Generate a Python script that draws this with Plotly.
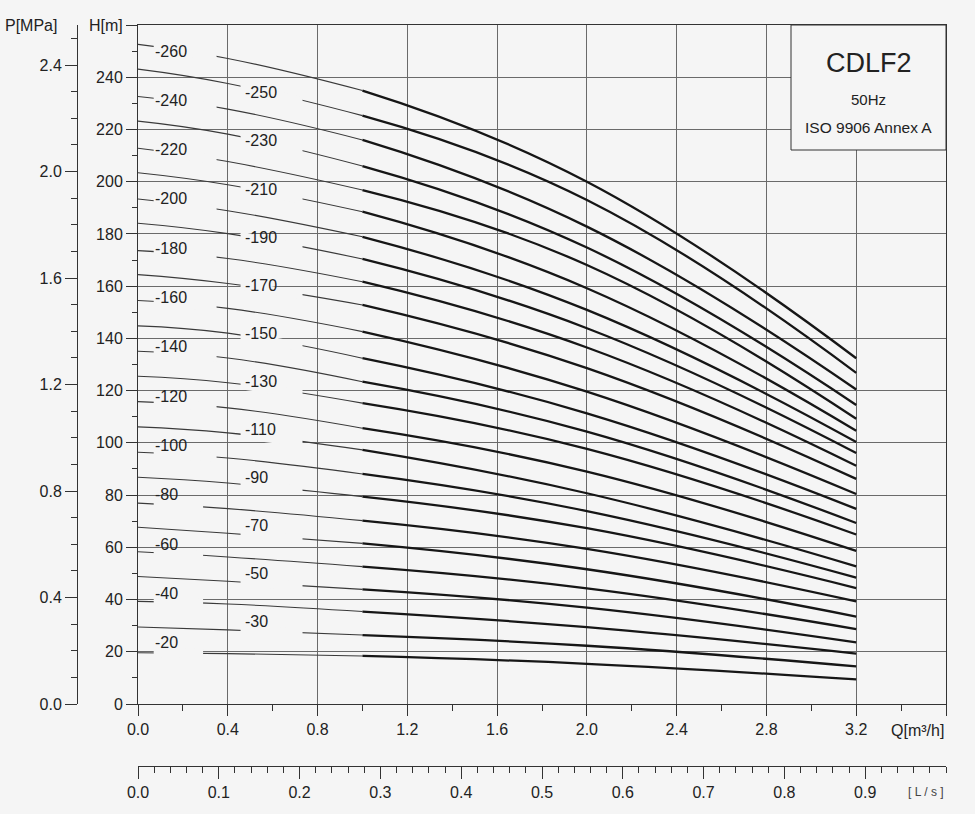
import numpy as np
import plotly.graph_objects as go

# ---------------- data ----------------
models = ["-20", "-30", "-40", "-50", "-60", "-70", "-80", "-90", "-100", "-110",
          "-120", "-130", "-140", "-150", "-160", "-170", "-180", "-190", "-200",
          "-210", "-220", "-230", "-240", "-250", "-260"]

# flow points (m3/h) where head was read
Q_thin = [0.0, 0.4, 1.0]     # thin (outside working range) part
Q_thick = [1.0, 2.0, 3.2]    # thick (working range) part

H_q00 = [19.6, 29.5, 39.3, 48.8, 58.3, 67.7, 76.9, 86.8, 96.4, 106.1,
         115.8, 125.5, 135.1, 144.8, 154.5, 164.4, 173.6, 184.1, 193.4,
         203.4, 212.8, 223.2, 232.6, 243.1, 252.6]
H_q04 = [19.3, 28.4, 38.3, 47.0, 56.3, 65.4, 74.8, 84.6, 94.2, 103.8,
         113.4, 123.0, 132.5, 142.0, 151.5, 161.0, 170.6, 180.1, 188.9,
         198.8, 207.7, 218.2, 227.8, 237.6, 247.2]
H_q10 = [18.4, 26.4, 35.4, 43.9, 52.6, 61.5, 70.2, 79.4, 88.1, 97.3,
         105.6, 115.2, 123.4, 132.4, 142.6, 152.8, 161.7, 170.4, 178.9,
         188.5, 196.8, 206.0, 216.0, 225.3, 234.9]
H_q20 = [15.4, 22.3, 29.4, 36.9, 44.3, 51.6, 59.4, 67.3, 73.9, 80.7,
         89.0, 97.7, 104.3, 111.3, 119.6, 128.6, 136.5, 143.9, 150.9,
         159.2, 168.1, 174.8, 182.8, 193.0, 200.0]
H_q32 = [9.4, 14.4, 19.3, 23.6, 28.7, 33.5, 39.3, 44.4, 48.4, 52.7,
         58.6, 64.9, 69.3, 74.7, 80.4, 86.2, 91.2, 96.1, 100.3,
         104.6, 109.2, 114.5, 120.4, 126.8, 132.4]

q_ticks = [0.0, 0.4, 0.8, 1.2, 1.6, 2.0, 2.4, 2.8, 3.2]
h_ticks = [0, 20, 40, 60, 80, 100, 120, 140, 160, 180, 200, 220, 240]
p_ticks = [0.0, 0.4, 0.8, 1.2, 1.6, 2.0, 2.4]
ls_ticks = [0.0, 0.1, 0.2, 0.3, 0.4, 0.5, 0.6, 0.7, 0.8, 0.9]

# ---------------- styling / layout constants ----------------
BG = "#f5f5f5"
AX = "#333333"
GRID = "#6a6a6a"
TXT = "#222222"
FONT = "Liberation Sans, Arial, sans-serif"
FS = 16

W, HGT = 975, 814
ML, MR, MT, MB = 40, 29, 25, 30
PW = W - ML - MR
PH = HGT - MT - MB


def px_x(px):
    return (px - ML) / PW


def px_y(py):
    return (HGT - MB - py) / PH


Q_MAX = 3.6
H_MAX = 260
P_MAX = H_MAX * 0.00981
LS_MAX = Q_MAX / 3.6

fig = go.Figure()

# pump curves
for i, m in enumerate(models):
    fig.add_trace(go.Scatter(
        x=Q_thin, y=[H_q00[i], H_q04[i], H_q10[i]], mode="lines",
        line=dict(color="#3a3a3a", width=1.1, shape="spline", smoothing=1.3),
        hoverinfo="skip", showlegend=False))
    fig.add_trace(go.Scatter(
        x=Q_thick, y=[H_q10[i], H_q20[i], H_q32[i]], mode="lines",
        line=dict(color="#161616", width=2.3, shape="spline", smoothing=1.3),
        hoverinfo="skip", showlegend=False))

# invisible helper traces so the extra axes are drawn
fig.add_trace(go.Scatter(x=[0, LS_MAX], y=[0, 0], xaxis="x2", yaxis="y",
                         mode="markers", marker=dict(opacity=0),
                         hoverinfo="skip", showlegend=False))
fig.add_trace(go.Scatter(x=[0, 0], y=[0, P_MAX], xaxis="x", yaxis="y2",
                         mode="markers", marker=dict(opacity=0),
                         hoverinfo="skip", showlegend=False))

shapes = []
annotations = []

# label gaps + labels
for i, m in enumerate(models):
    n = int(m[1:]) // 10
    hthin = [H_q00[i], H_q04[i], H_q10[i]]
    if n % 2 == 0:
        qa, qb = 0.07, (0.35 if n >= 10 else 0.29)
        qt = 0.068
        ylab = 9.44 * n + 4.6
    else:
        qa, qb = 0.457, 0.733
        qt = 0.466
        ylab = 9.2 * n + 4.0
    ha = float(np.interp(qa, Q_thin, hthin))
    hb = float(np.interp(qb, Q_thin, hthin))
    d = 1.7
    shapes.append(dict(
        type="path", xref="x", yref="y", layer="above",
        path=f"M {qa},{ha + d} L {qb},{hb + d} L {qb},{hb - d} L {qa},{ha - d} Z",
        fillcolor=BG, line=dict(width=0)))
    annotations.append(dict(
        x=qt, y=ylab, xref="x", yref="y", xanchor="left", yanchor="middle",
        text=m, showarrow=False, font=dict(size=FS, color=TXT, family=FONT)))

# title box
shapes.append(dict(type="rect", xref="paper", yref="paper", layer="above",
                   x0=px_x(791), x1=1.0, y0=px_y(150), y1=1.0,
                   fillcolor=BG, line=dict(color=AX, width=1)))
box_cx = px_x((791 + 946) / 2)
annotations += [
    dict(x=box_cx, y=px_y(63), xref="paper", yref="paper", text="CDLF2",
         xanchor="center", yanchor="middle",
         showarrow=False, font=dict(size=27, color=TXT, family=FONT)),
    dict(x=box_cx, y=px_y(99), xref="paper", yref="paper", text="50Hz",
         xanchor="center", yanchor="middle",
         showarrow=False, font=dict(size=15, color=TXT, family=FONT)),
    dict(x=box_cx, y=px_y(128), xref="paper", yref="paper", text="ISO 9906 Annex A",
         xanchor="center", yanchor="middle",
         showarrow=False, font=dict(size=15.5, color=TXT, family=FONT)),
    dict(x=px_x(59), y=1.0, xref="paper", yref="paper", xanchor="right",
         yanchor="middle", text="P[MPa]", showarrow=False,
         font=dict(size=FS, color=TXT, family=FONT)),
    dict(x=1.0, y=px_y(730), xref="paper", yref="paper", xanchor="right",
         yanchor="middle", text="Q[m³/h]", showarrow=False,
         font=dict(size=FS, color=TXT, family=FONT)),
    dict(x=1.0, y=px_y(792), xref="paper", yref="paper", xanchor="right",
         yanchor="middle", text="[ L / s ]", showarrow=False,
         font=dict(size=12, color="#444444", family=FONT)),
]

tickfont = dict(size=FS, color=TXT, family=FONT)

fig.update_layout(
    width=W, height=HGT,
    margin=dict(l=ML, r=MR, t=MT, b=MB, pad=0),
    paper_bgcolor=BG, plot_bgcolor=BG,
    showlegend=False, hovermode=False,
    font=dict(family=FONT, size=FS, color=TXT),
    shapes=shapes, annotations=annotations,
    xaxis=dict(
        domain=[px_x(138), 1.0], range=[0, Q_MAX], anchor="y",
        tickmode="array", tickvals=q_ticks + [Q_MAX],
        ticktext=[f"{v:.1f}" for v in q_ticks] + [""],
        ticks="outside", ticklen=11, tickwidth=1, tickcolor=AX,
        minor=dict(tickmode="linear", tick0=0, dtick=0.2, ticks="outside",
                   ticklen=6, tickcolor=AX, showgrid=False),
        showline=True, linecolor=AX, linewidth=1, mirror=True,
        showgrid=True, gridcolor=GRID, gridwidth=1, zeroline=False,
        tickfont=tickfont, fixedrange=True),
    yaxis=dict(
        domain=[px_y(704), 1.0], range=[0, H_MAX], anchor="x",
        tickmode="array", tickvals=h_ticks + [H_MAX],
        ticktext=[str(v) for v in h_ticks] + ["H[m]"],
        ticks="outside", ticklen=11, tickwidth=1, tickcolor=AX,
        minor=dict(tickmode="linear", tick0=0, dtick=10, ticks="outside",
                   ticklen=5, tickcolor=AX, showgrid=False),
        showline=True, linecolor=AX, linewidth=1, mirror=True,
        showgrid=True, gridcolor=GRID, gridwidth=1, zeroline=False,
        tickfont=tickfont, fixedrange=True),
    yaxis2=dict(
        overlaying="y", anchor="free", position=px_x(77), side="left",
        range=[0, P_MAX], tickmode="array", tickvals=p_ticks,
        ticktext=[f"{v:.1f}" for v in p_ticks],
        ticks="outside", ticklen=12, tickwidth=1, tickcolor=AX,
        minor=dict(tickmode="linear", tick0=0, dtick=0.1, ticks="outside",
                   ticklen=6, tickcolor=AX),
        showline=True, linecolor=AX, linewidth=1,
        showgrid=False, zeroline=False, tickfont=tickfont, fixedrange=True),
    xaxis2=dict(
        overlaying="x", anchor="free", position=px_y(766), side="bottom",
        range=[0, LS_MAX], tickmode="array", tickvals=ls_ticks,
        ticktext=[f"{v:.1f}" for v in ls_ticks],
        ticks="outside", ticklen=12, tickwidth=1, tickcolor=AX,
        minor=dict(tickmode="linear", tick0=0, dtick=0.02, ticks="outside",
                   ticklen=6, tickcolor=AX),
        showline=True, linecolor=AX, linewidth=1,
        showgrid=False, zeroline=False, tickfont=tickfont, fixedrange=True),
)

fig.write_html(
    "out.html",
    config={"displayModeBar": False, "staticPlot": True},
    post_script="document.body.style.margin='0px';"
                "document.body.style.background='" + BG + "';",
)
